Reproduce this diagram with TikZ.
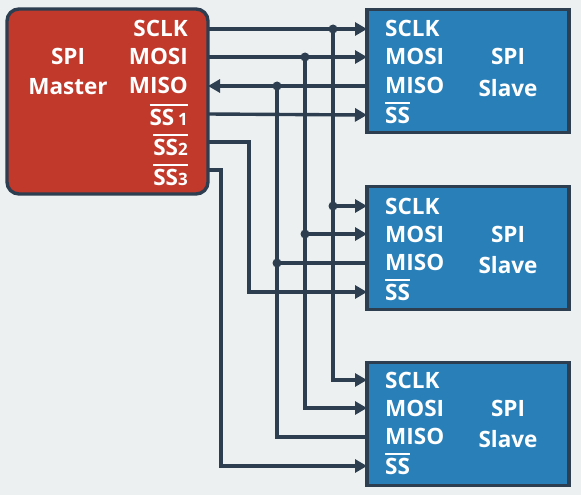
\documentclass[tikz,border=0pt]{standalone}
\usepackage{fontspec}
\setmainfont{Open Sans}
\usetikzlibrary{arrows.meta}

\definecolor{bgcol}{HTML}{ECF0F1}
\definecolor{wirecol}{HTML}{2C3E50}
\definecolor{mastercol}{HTML}{C0392B}
\definecolor{slavecol}{HTML}{2980B9}
\newcommand{\ovl}[1]{\setbox0\hbox{#1}\rlap{\raisebox{\dimexpr\ht0+2.5pt\relax}{\rule{\wd0}{2.2pt}}}\box0}

\tikzset{
    wire/.style={draw=wirecol, line width=3.4pt},
    sig/.style={wire, -{Triangle[length=12pt, width=13pt]}},
    dot/.style={circle, fill=wirecol, inner sep=0pt, minimum size=9pt},
    txt/.style={text=white, inner sep=0pt, font=\bfseries\fontsize{22.5}{22.5}\selectfont},
    master/.style={draw=wirecol, fill=mastercol, line width=3.4pt, rounded corners=12pt, minimum width=201pt, minimum height=185pt, inner sep=0pt},
    slave/.style={draw=wirecol, fill=slavecol, line width=3.4pt, minimum width=202pt, minimum height=123pt, inner sep=0pt},
}

\begin{document}
\begin{tikzpicture}[x=1pt, y=-1pt]
                            \fill[bgcol] (0,0) rectangle (581,495);

                            \node (M)[master] at (107.5, 101.5) {};
                            \node (S1)[slave] at (468, 71) {};
                            \node (S2)[slave] at (468, 248) {};
                            \node (S3)[slave] at (468, 424) {};

                            \node (Mspi)[txt, anchor=base] at (68, 64) {SPI};
                            \node (Mmaster)[txt, anchor=base] at (68, 95) {Master};
                            \node (Msclk)[txt, anchor=base east] at (188, 37) {SCLK};
                            \node (Mmosi)[txt, anchor=base east] at (188, 65) {MOSI};
                            \node (Mmiso)[txt, anchor=base east] at (188, 93) {MISO};
                            \node (Mss1)[txt, anchor=base east] at (188, 125) {\ovl{SS\,{\fontsize{17}{17}\selectfont 1}}};
                            \node (Mss2)[txt, anchor=base east] at (188, 155) {\ovl{SS{\fontsize{17}{17}\selectfont 2}}};
                            \node (Mss3)[txt, anchor=base east] at (188, 185) {\ovl{SS{\fontsize{17}{17}\selectfont 3}}};

                            \foreach \s/\dy in {1/0, 2/177, 3/351} {
                                \node (S\s sclk)[txt, anchor=base west] at (385, 37+\dy) {SCLK};
                                \node (S\s mosi)[txt, anchor=base west] at (385, 65+\dy) {MOSI};
                                \node (S\s miso)[txt, anchor=base west] at (385, 93+\dy) {MISO};
                                \node (S\s ss)[txt, anchor=base west] at (385, 123+\dy) {\ovl{SS}};
                                \node (S\s spi)[txt, anchor=base] at (508, 65+\dy) {SPI};
                                \node (S\s name)[txt, anchor=base] at (508, 96+\dy) {Slave};
                            }

                            \coordinate (m-sclk) at (208, 29);
                            \coordinate (m-mosi) at (208, 57);
                            \coordinate (m-miso) at (208, 86);
                            \coordinate (m-ss1) at (208, 114);
                            \coordinate (m-ss2) at (208, 142);
                            \coordinate (m-ss3) at (208, 170);
                            \foreach \s/\dy in {1/0, 2/177, 3/351} {
                                \coordinate (s\s-sclk) at (367, 29+\dy);
                                \coordinate (s\s-mosi) at (367, 57+\dy);
                                \coordinate (s\s-miso) at (367, 86+\dy);
                                \coordinate (s\s-ss) at (367, 115+\dy);
                            }

                            \coordinate (j-sclk) at (333, 29);
                            \coordinate (j-mosi) at (305, 57);
                            \coordinate (j-miso) at (277, 86);
                            \coordinate (k-sclk) at (333, 206);
                            \coordinate (k-mosi) at (305, 234);
                            \coordinate (k-miso) at (277, 263);
                            \coordinate (c-ss2) at (249, 142);
                            \coordinate (c-ss3) at (221, 170);

                            \draw[sig] (m-sclk) -- (s1-sclk);
                            \draw[sig] (m-mosi) -- (s1-mosi);
                            \draw[sig] (s1-miso) -- (m-miso);
                            \draw[sig] (m-ss1) -- (s1-ss);

                            \draw[sig] (j-sclk) |- (s3-sclk);
                            \draw[sig] (j-mosi) |- (s3-mosi);
                            \draw[wire] (j-miso) |- (s3-miso);
                            \draw[sig] (k-sclk) -- (s2-sclk);
                            \draw[sig] (k-mosi) -- (s2-mosi);
                            \draw[wire] (k-miso) -- (s2-miso);

                            \draw[sig] (m-ss2) -- (c-ss2) |- (s2-ss);
                            \draw[sig] (m-ss3) -- (c-ss3) |- (s3-ss);

                            \foreach \j in {j-sclk, j-mosi, j-miso, k-sclk, k-mosi, k-miso}
                                \node[dot] at (\j) {};

\end{tikzpicture}
\end{document}
